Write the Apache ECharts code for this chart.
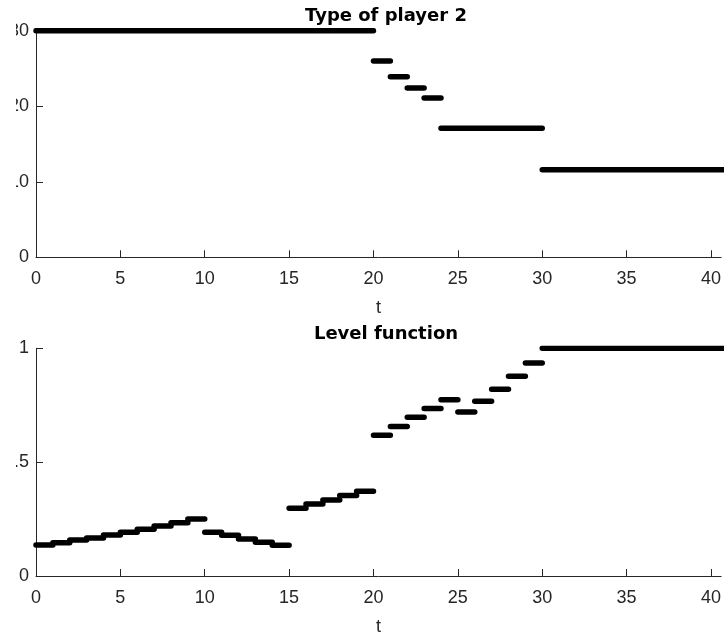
<!DOCTYPE html>
<html>
<head>
<meta charset="utf-8">
<script src="https://cdn.jsdelivr.net/npm/echarts@6/dist/echarts.min.js"></script>
<style>
  html, body { margin: 0; padding: 0; background: #fff; }
  #main { width: 724px; height: 637px; }
</style>
</head>
<body>
<div id="main"></div>
<script>
// top panel: type of player 2, one step per segment
const typeStart = [0, 20, 21, 22, 23, 24, 30];
const typeEnd   = [20, 21, 22, 23, 24, 30, 41];
const typeValue = [30, 26, 23.9, 22.4, 21.1, 17.1, 11.6];

// bottom panel: level function, unit steps then flat at 1
const levelStart = [0, 1, 2, 3, 4, 5, 6, 7, 8, 9, 10, 11, 12, 13, 14, 15, 16, 17, 18, 19, 20, 21, 22, 23, 24, 25, 26, 27, 28, 29, 30];
const levelEnd   = [1, 2, 3, 4, 5, 6, 7, 8, 9, 10, 11, 12, 13, 14, 15, 16, 17, 18, 19, 20, 21, 22, 23, 24, 25, 26, 27, 28, 29, 30, 41];
const levelValue = [0.136, 0.146, 0.158, 0.167, 0.180, 0.192, 0.205, 0.220, 0.234, 0.250,
                    0.192, 0.179, 0.162, 0.148, 0.135,
                    0.297, 0.316, 0.334, 0.353, 0.372,
                    0.618, 0.657, 0.697, 0.736, 0.774, 0.720, 0.767, 0.820, 0.877, 0.935,
                    1.0];

// x range runs a bit past 40, the figure is cut off on the right
const xTicks = { min: 0, max: 40.6, interval: 5 };
const typeTicks = { min: 0, max: 30, interval: 10 };
const levelTicks = { min: 0, max: 1, interval: 0.5 };

// build [x,y] pairs with a null point between steps so the line breaks
const toSteps = (starts, ends, vals) => {
  let out = [];
  for (let i = 0; i < vals.length; i++) {
    out.push([starts[i], vals[i]]);
    out.push([ends[i], vals[i]]);
    out.push([ends[i], null]);
  }
  return out;
}

const axisColor = '#262626';
const tickFont = { fontFamily: 'Liberation Sans', fontSize: 18, color: axisColor };

const xAxisBase = (gridIndex) => ({
  type: 'value',
  gridIndex: gridIndex,
  min: xTicks.min,
  max: xTicks.max,
  interval: xTicks.interval,
  name: 't',
  nameLocation: 'middle',
  nameGap: 42,
  nameTextStyle: tickFont,
  axisLine: { show: true, onZero: false, lineStyle: { color: axisColor, width: 1 } },
  axisTick: { show: true, inside: true, length: 7, lineStyle: { color: axisColor } },
  axisLabel: Object.assign({ margin: 13, showMaxLabel: false }, tickFont),
  splitLine: { show: false }
})

const yAxisBase = (gridIndex, ticks) => ({
  type: 'value',
  gridIndex: gridIndex,
  min: ticks.min,
  max: ticks.max,
  interval: ticks.interval,
  axisLine: { show: true, lineStyle: { color: axisColor, width: 1 } },
  axisTick: { show: true, inside: true, length: 7, lineStyle: { color: axisColor } },
  axisLabel: Object.assign({ margin: 7 }, tickFont),
  splitLine: { show: false }
})

const stepLine = { color: '#000', width: 5.5, cap: 'round', join: 'round' };

let option = {
  animation: false,
  backgroundColor: '#fff',
  title: [
    {
      text: 'Type of player 2',
      left: 386, top: 7, padding: 0, textAlign: 'center',
      textStyle: { fontFamily: 'DejaVu Sans', fontWeight: 'bold', fontSize: 18, color: '#000' }
    },
    {
      text: 'Level function',
      left: 386, top: 325, padding: 0, textAlign: 'center',
      textStyle: { fontFamily: 'DejaVu Sans', fontWeight: 'bold', fontSize: 18, color: '#000' }
    }
  ],
  grid: [
    { left: 36, right: 0, top: 30.7, bottom: 379.7 },
    { left: 36, right: 0, top: 348.3, bottom: 61 }
  ],
  xAxis: [xAxisBase(0), xAxisBase(1)],
  yAxis: [yAxisBase(0, typeTicks), yAxisBase(1, levelTicks)],
  series: [
    {
      name: 'Type of player 2',
      type: 'line',
      xAxisIndex: 0, yAxisIndex: 0,
      data: toSteps(typeStart, typeEnd, typeValue),
      showSymbol: false,
      connectNulls: false,
      lineStyle: stepLine
    },
    {
      name: 'Level function',
      type: 'line',
      xAxisIndex: 1, yAxisIndex: 1,
      data: toSteps(levelStart, levelEnd, levelValue),
      showSymbol: false,
      connectNulls: false,
      lineStyle: stepLine
    }
  ],
  // the original figure is cropped on the left, cutting the y tick labels
  graphic: [
    { type: 'rect', left: 0, top: 0, z: 100, shape: { width: 16, height: 637 }, style: { fill: '#fff' } }
  ]
};

let myChart = echarts.init(document.getElementById('main'));
myChart.setOption(option);
</script>
</body>
</html>
